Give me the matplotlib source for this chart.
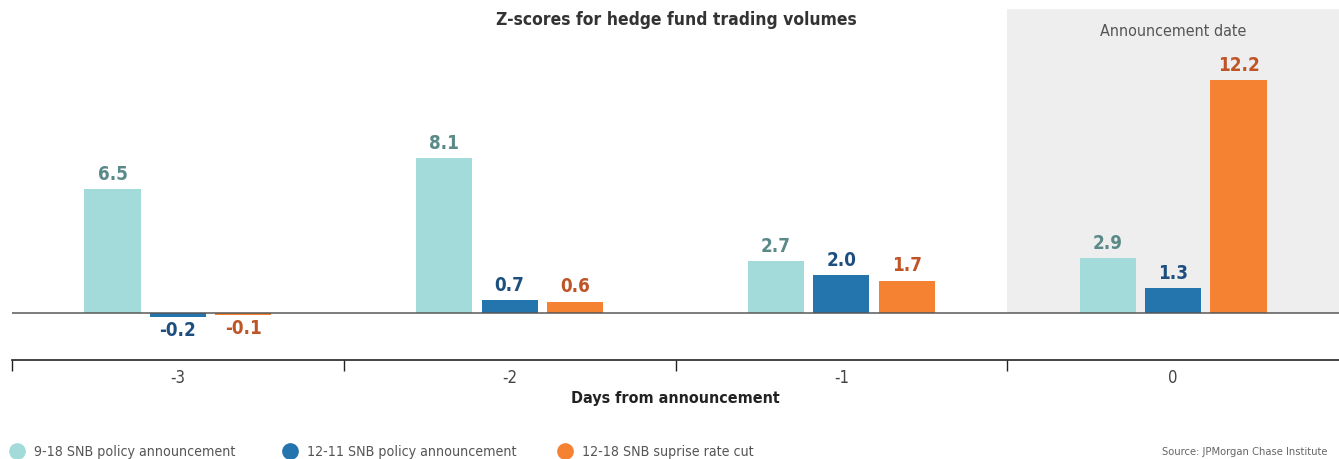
import matplotlib.pyplot as plt
from matplotlib.lines import Line2D

plt.rcParams['font.family'] = ['DejaVu Sans']
plt.rcParams['font.stretch'] = 'condensed'

days = [-3, -2, -1, 0]
series_names = ["9-18 SNB policy announcement",
                "12-11 SNB policy announcement",
                "12-18 SNB suprise rate cut"]
sep_18 = [6.5, 8.1, 2.7, 2.9]
dec_11 = [-0.2, 0.7, 2.0, 1.3]
dec_18 = [-0.1, 0.6, 1.7, 12.2]

bar_colors = ["#a3dbdb", "#2474ae", "#f58233"]
label_colors = ["#5a8a88", "#1c4f80", "#bf5426"]


def main():
    fig = plt.figure(figsize=(13.39, 4.60), dpi=100)
    ax = fig.add_axes([12 / 1339, 99 / 460, 1327 / 1339, 351 / 460])

    ax.set_xlim(-3.5, 0.5)
    ax.set_ylim(-2.46, 15.92)

    # shaded announcement day
    ax.fill_between([-0.5, 0.5], 0, 15.92, color="#eeeeee", lw=0, zorder=0)
    ax.text(0, 14.82, "Announcement date", ha="center", va="center",
            fontsize=11.5, color="#555555")

    width = 0.169
    offsets = [-0.197, 0, 0.197]
    for k, vals in enumerate([sep_18, dec_11, dec_18]):
        xs = [d + offsets[k] for d in days]
        ax.bar(xs, vals, width=width, color=bar_colors[k], zorder=2)
        for x, v in zip(xs, vals):
            if v >= 0:
                ax.text(x, v + 0.32, f"{v:.1f}", ha="center", va="bottom",
                        fontsize=13.5, fontweight="bold", color=label_colors[k])
            else:
                ax.text(x, v - 0.15, f"{v:.1f}", ha="center", va="top",
                        fontsize=13.5, fontweight="bold", color=label_colors[k])

    ax.axhline(0, color="#555555", lw=1.2, alpha=0.9, zorder=3)

    for s in ["top", "right", "left"]:
        ax.spines[s].set_visible(False)
    ax.spines["bottom"].set_color("#222222")
    ax.spines["bottom"].set_linewidth(1.2)
    ax.set_yticks([])

    ax.set_xticks([-3.5, -2.5, -1.5, -0.5])
    ax.set_xticklabels([])
    ax.tick_params(axis="x", which="major", length=8, width=1, color="#222222")
    ax.set_xticks(days, minor=True)
    ax.set_xticklabels([str(d) for d in days], minor=True)
    ax.tick_params(axis="x", which="minor", length=0, pad=6,
                   labelsize=12, labelcolor="#444444")
    ax.set_xlabel("Days from announcement", fontsize=11.5, fontweight="bold",
                  color="#222222", labelpad=3)

    fig.text(676 / 1339, 1 - 20 / 460, "Z-scores for hedge fund trading volumes",
             ha="center", va="center", fontsize=12.5, fontweight="bold",
             color="#333333")

    # legend
    legend_x = [17, 290, 565]
    for k, name in enumerate(series_names):
        fig.add_artist(Line2D([legend_x[k] / 1339], [1 - 452 / 460],
                              marker="o", markersize=11, color=bar_colors[k],
                              lw=0, transform=fig.transFigure))
        fig.text((legend_x[k] + 17) / 1339, 1 - 452 / 460, name,
                 ha="left", va="center", fontsize=10.2, color="#555555")

    fig.text(1328 / 1339, 1 - 452 / 460, "Source: JPMorgan Chase Institute",
             ha="right", va="center", fontsize=8, color="#666666")

    fig.savefig("out.png", dpi=100)


if __name__ == '__main__':
    main()
